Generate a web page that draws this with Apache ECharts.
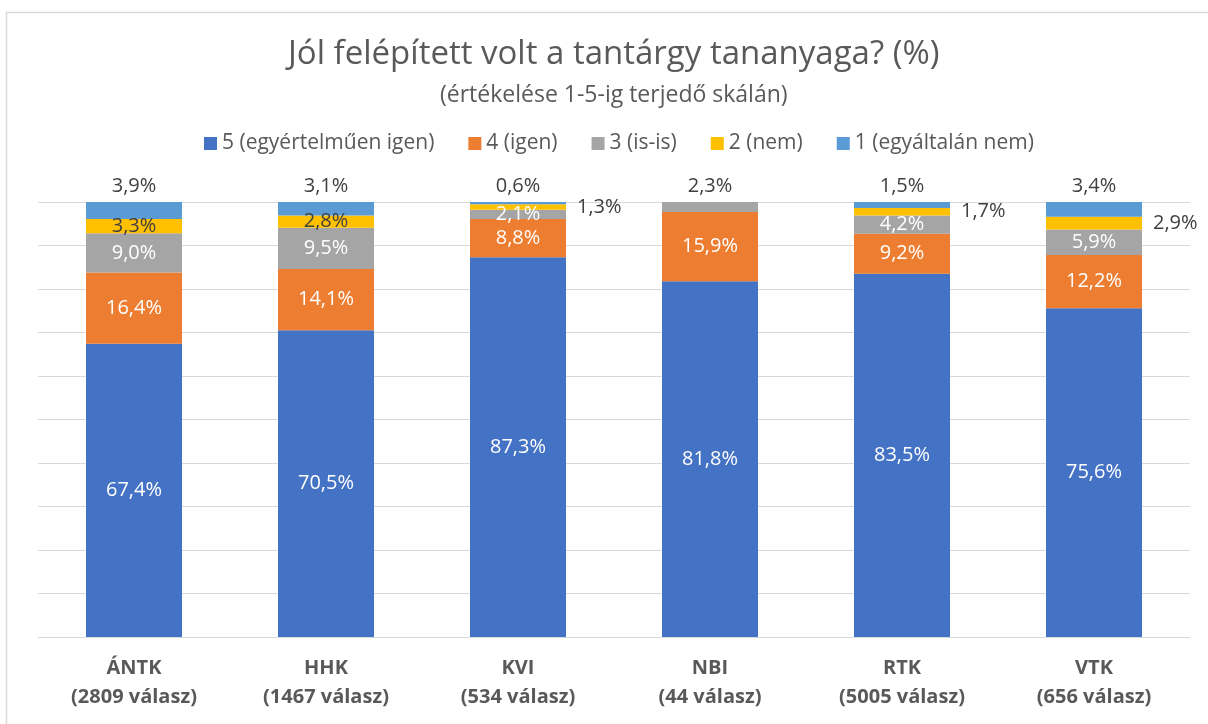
<!DOCTYPE html>
<html>
<head>
<meta charset="utf-8">
<script src="https://cdn.jsdelivr.net/npm/echarts@6/dist/echarts.min.js"></script>
<style>
  html, body { margin: 0; padding: 0; background: #fff; }
  #chart { width: 1208px; height: 724px; }
</style>
</head>
<body>
<div id="chart"></div>
<script>
  // karok + válaszok száma
  var karok = ['ÁNTK', 'HHK', 'KVI', 'NBI', 'RTK', 'VTK'];
  var valaszok = [2809, 1467, 534, 44, 5005, 656];

  var nevek = ['5 (egyértelműen igen)', '4 (igen)', '3 (is-is)', '2 (nem)', '1 (egyáltalán nem)'];
  var ertek5 = [67.4, 70.5, 87.3, 81.8, 83.5, 75.6];
  var ertek4 = [16.4, 14.1, 8.8, 15.9, 9.2, 12.2];
  var ertek3 = [9.0, 9.5, 2.1, 2.3, 4.2, 5.9];
  var ertek2 = [3.3, 2.8, 1.3, 0, 1.7, 2.9];
  var ertek1 = [3.9, 3.1, 0.6, 0, 1.5, 3.4];

  var szinek = ['#4472C4', '#ED7D31', '#A5A5A5', '#FFC000', '#5B9BD5'];
  var font = '"Open Sans", "Noto Sans", sans-serif';

  var fmt = function (p) {
    if (!p.value) return '';
    return p.value.toFixed(1).replace('.', ',') + '%';
  };

  var chart = echarts.init(document.getElementById('chart'));

  // 2 (nem) címkék kívül, jobbra: KVI, RTK, VTK
  var nemKivul = [2, 4, 5];
  var adat2 = ertek2.map(function (v, i) {
    if (nemKivul.indexOf(i) >= 0) {
      return { value: v, label: { position: 'right', distance: 11 } };
    }
    return v;
  });
  // NBI-nél a 3 (is-is) címke a tetején
  var adat3 = ertek3.map(function (v, i) {
    if (i === 3) {
      return { value: v, label: { position: 'top', distance: 6, color: '#404040' } };
    }
    return v;
  });

  var sorok = [ertek5, ertek4, adat3, adat2, ertek1];

  chart.setOption({
    animation: false,
    color: szinek,
    title: [{
      text: 'Jól felépített volt a tantárgy tananyaga? (%)',
      left: 283,
      top: 33,
      textStyle: { fontFamily: font, fontSize: 33, fontWeight: 'normal', color: '#595959' }
    }, {
      text: '(értékelése 1-5-ig terjedő skálán)',
      left: 435,
      top: 79,
      textStyle: { fontFamily: font, fontSize: 23, fontWeight: 'normal', color: '#595959' }
    }],
    legend: {
      top: 128,
      left: 199,
      itemWidth: 13,
      itemHeight: 13,
      itemGap: 34,
      icon: 'rect',
      data: nevek,
      textStyle: { fontFamily: font, fontSize: 21, color: '#595959' }
    },
    grid: { left: 38, right: 18, top: 202, bottom: 87 },
    xAxis: {
      type: 'category',
      data: karok.map(function (k, i) { return k + '\n(' + valaszok[i] + ' válasz)'; }),
      axisTick: { show: false },
      axisLine: { lineStyle: { color: '#D9D9D9', width: 1 } },
      axisLabel: {
        margin: 17,
        fontFamily: font,
        fontSize: 20,
        fontWeight: 'bold',
        color: '#595959',
        lineHeight: 29
      }
    },
    yAxis: {
      type: 'value',
      min: 0,
      max: 100,
      interval: 10,
      axisLabel: { show: false },
      axisLine: { show: false },
      axisTick: { show: false },
      splitLine: { lineStyle: { color: '#D9D9D9', width: 1 } }
    },
    series: sorok.map(function (d, i) {
      var sotet = (i === 3 || i === 4);
      return {
        name: nevek[i],
        type: 'bar',
        stack: 'osszes',
        barWidth: '50%',
        data: d,
        label: {
          show: true,
          position: i === 4 ? 'top' : 'inside',
          distance: 6,
          formatter: fmt,
          fontFamily: font,
          fontSize: 20,
          color: sotet ? '#404040' : '#ffffff'
        }
      };
    }),
    graphic: [{
      type: 'rect',
      left: 4,
      top: 10,
      shape: { width: 1300, height: 800 },
      style: { fill: 'none', stroke: '#D9D9D9', lineWidth: 1.5 },
      silent: true
    }]
  });
</script>
</body>
</html>
